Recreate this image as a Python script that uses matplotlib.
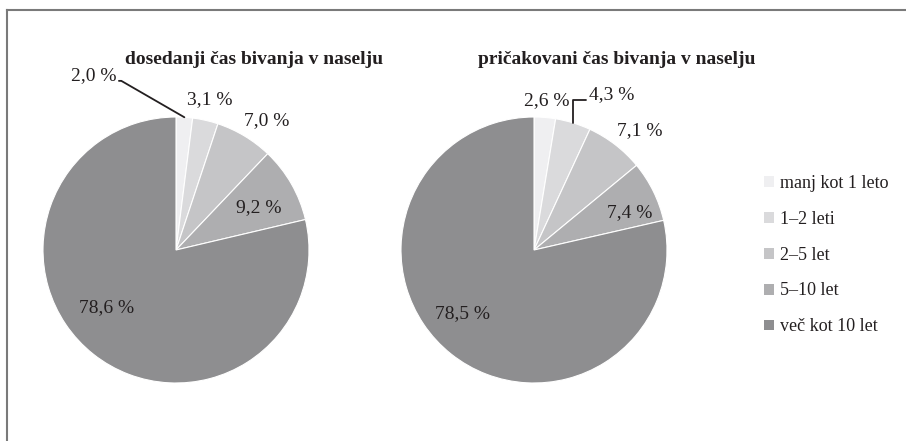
import numpy as np
import matplotlib.pyplot as plt
from matplotlib.patches import Patch
from matplotlib.lines import Line2D

# data
categories = ["manj kot 1 leto", "1–2 leti", "2–5 let", "5–10 let", "več kot 10 let"]
titles = ["dosedanji čas bivanja v naselju", "pričakovani čas bivanja v naselju"]
dosedanji = [2.0, 3.1, 7.0, 9.2, 78.6]
pricakovani = [2.6, 4.3, 7.1, 7.4, 78.5]

colors = ["#efeff1", "#dadadc", "#c5c5c7", "#aeaeb0", "#8e8e90"]

plt.rcParams['font.family'] = ['Liberation Serif', 'DejaVu Serif']

fig = plt.figure(figsize=(9.06, 4.41), dpi=100)
W, H = 906, 441

def px_axes(cx, cy, r):
    return fig.add_axes([(cx - r) / W, (H - cy - r) / H, 2 * r / W, 2 * r / H])

def fmt(v):
    return f"{v:.1f}".replace(".", ",") + " %"

# label placement: (radius, angle nudge in degrees); None = leader line label
label_pos = [
    [None, (1.16, 0), (1.19, -4), (0.70, -2.5), (0.68, -12)],
    [(1.13, 0), None, (1.20, -4), (0.77, -5), (0.72, -10)],
]
leaders = [
    dict(xytext=(-0.45, 1.31), ha="right", conn="angle,angleA=0,angleB=150", relpos=(1, 0.2)),
    dict(xytext=(0.41, 1.17), ha="left", conn="angle,angleA=0,angleB=90", relpos=(0, 0.15)),
]
title_x = [254, 617]
centers = [(176, 250), (534, 250)]
txt_col = "#231f20"

for i, (vals, ttl) in enumerate(zip([dosedanji, pricakovani], titles)):
    cx, cy = centers[i]
    ax = px_axes(cx, cy, 133)
    wedges, _ = ax.pie(vals, colors=colors, startangle=90, counterclock=False,
                       radius=1, wedgeprops=dict(edgecolor="white", linewidth=0.8))
    ax.set_xlim(-1, 1)
    ax.set_ylim(-1, 1)
    ax.set_aspect("equal")
    for j, w in enumerate(wedges):
        mid = np.deg2rad((w.theta1 + w.theta2) / 2)
        pos = label_pos[i][j]
        if pos is None:
            ld = leaders[i]
            ax.annotate(fmt(vals[j]), xy=(np.cos(mid), np.sin(mid)), xytext=ld["xytext"],
                        ha=ld["ha"], va="center", fontsize=14, color=txt_col,
                        annotation_clip=False,
                        arrowprops=dict(arrowstyle="-", color=txt_col, lw=1.3,
                                        shrinkA=0, shrinkB=0, relpos=ld["relpos"],
                                        connectionstyle=ld["conn"]))
        else:
            r, dang = pos
            a = mid + np.deg2rad(dang)
            ax.text(r * np.cos(a), r * np.sin(a), fmt(vals[j]), ha="center", va="center",
                    fontsize=14, color=txt_col)
    fig.text(title_x[i] / W, 1 - 60 / H, ttl, ha="center", va="center",
             fontsize=14, fontweight="bold", color=txt_col)

handles = [Patch(facecolor=c, edgecolor="none") for c in colors]
fig.legend(handles, categories, loc="center left", bbox_to_anchor=(748 / W, 1 - 255 / H),
           frameon=False, fontsize=13, handlelength=0.55, handleheight=0.55,
           handletextpad=0.35, labelspacing=1.05, labelcolor=txt_col)

# frame lines (top and left only)
lc = "#7a7a7a"
fig.add_artist(Line2D([7 / W, 1], [1 - 10 / H, 1 - 10 / H], color=lc, lw=1.5))
fig.add_artist(Line2D([7 / W, 7 / W], [0, 1 - 10 / H], color=lc, lw=1.5))

fig.savefig("out.png", dpi=100)
